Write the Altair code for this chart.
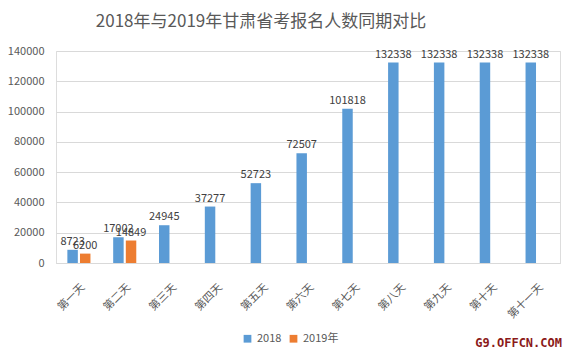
import altair as alt
import pandas as pd

days = ["第一天", "第二天", "第三天", "第四天", "第五天", "第六天",
        "第七天", "第八天", "第九天", "第十天", "第十一天"]
v2018 = [8723, 17002, 24945, 37277, 52723, 72507, 101818, 132338, 132338, 132338, 132338]
v2019 = [6200, 14849]
series = ["2018", "2019年"]
colors = ["#5B9BD5", "#ED7D31"]

rows = []
for d, v in zip(days, v2018):
    rows.append({"day": d, "series": series[0], "value": v})
for d, v in zip(days, v2019):
    rows.append({"day": d, "series": series[1], "value": v})
df = pd.DataFrame(rows)

FONT = "Noto Sans CJK SC"
GREY = "#595959"

x = alt.X("day:N", sort=days, title=None,
          scale=alt.Scale(paddingInner=0, paddingOuter=0),
          axis=alt.Axis(labelAngle=-45, labelFontSize=11, labelColor=GREY,
                        labelFont=FONT, ticks=False, domainColor="#D9D9D9",
                        labelPadding=18, grid=False))
xo = alt.XOffset("series:N", scale=alt.Scale(domain=series, paddingInner=0.17, paddingOuter=0.9))
y = alt.Y("value:Q", title=None,
          scale=alt.Scale(domain=[0, 140000]),
          axis=alt.Axis(values=list(range(0, 140001, 20000)), format="d", labelFontSize=11,
                        labelColor=GREY, labelFont=FONT, ticks=False, domain=False,
                        gridColor="#D9D9D9", labelPadding=12))

bars = alt.Chart(df).mark_bar().encode(
    x=x, xOffset=xo, y=y,
    color=alt.Color("series:N", scale=alt.Scale(domain=series, range=colors),
                    legend=alt.Legend(title=None, orient="none", direction="horizontal",
                                      legendX=186, legendY=282, symbolType="square",
                                      symbolSize=60, labelFontSize=11, labelColor=GREY,
                                      labelFont=FONT, columnPadding=6, symbolOffset=0)),
)

labels = alt.Chart(df).mark_text(baseline="bottom", dy=-3, fontSize=11,
                                 color="#404040", font=FONT).encode(
    x=x, xOffset=xo, y=y, text=alt.Text("value:Q", format="d")
)

wm = alt.Chart(pd.DataFrame({"t": ["G9.OFFCN.COM"]})).mark_text(
    align="right", baseline="middle", fontSize=12, fontWeight="bold",
    color="#8B1A1A", font="DejaVu Sans Mono"
).encode(x=alt.value(506), y=alt.value(292), text="t:N")

chart = alt.layer(bars, labels, wm).properties(
    width=504, height=212,
    title=alt.TitleParams("2018年与2019年甘肃省考报名人数同期对比", fontSize=17,
                          font=FONT, fontWeight="normal", color=GREY,
                          anchor="middle", dx=-47, offset=14),
    autosize=alt.AutoSizeParams(type="none"),
    padding={"left": 48, "top": 43, "right": 8, "bottom": 87},
).configure_view(stroke=None).configure(background="white")

chart.save("out.html", embed_options={"renderer": "svg", "actions": False})
